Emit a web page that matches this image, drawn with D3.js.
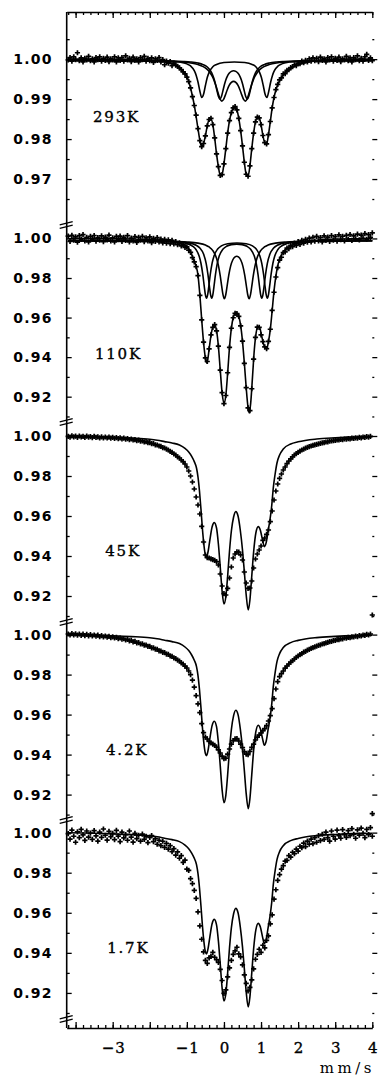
<!DOCTYPE html>
<html><head><meta charset="utf-8">
<script src="https://cdn.jsdelivr.net/npm/d3@7"></script>
<style>body{margin:0;background:#fff}svg{display:block}</style>
</head><body>
<svg id="chart" width="378" height="1076"></svg>
<script>
// ---------- DATA ----------
const velocityStart = -4.2;   // mm/s of first channel
const velocityStep = 0.05;    // mm/s per channel

const panelLabels = ["293K", "110K", "45K", "4.2K", "1.7K"];
const panelLabelAt = [[-3.53, 0.9856], [-3.48, 0.9416], [-3.2, 0.9425], [-3.18, 0.9425], [-3.15, 0.9425]];
const yDomains = [[0.9585, 1.0118], [0.9072, 1.0068], [0.907, 1.007], [0.9073, 1.0063], [0.9025, 1.0063]];
const yMajorTicks = [[1.00, 0.99, 0.98, 0.97], [1.00, 0.98, 0.96, 0.94, 0.92], [1.00, 0.98, 0.96, 0.94, 0.92], [1.00, 0.98, 0.96, 0.94, 0.92], [1.00, 0.98, 0.96, 0.94, 0.92]];
const yMinorTicks = [[1.005, 0.995, 0.985, 0.975, 0.965], [0.99, 0.97, 0.95, 0.93, 0.91], [0.99, 0.97, 0.95, 0.93, 0.91], [0.99, 0.97, 0.95, 0.93, 0.91], [0.99, 0.97, 0.95, 0.93, 0.91]];
const xMajorTicks = [-4, -3, -2, -1, 0, 1, 2, 3, 4];
const xTickLabels = [-3, -1, 0, 1, 2, 3, 4];
const xUnit = "mm/s";

const data293K = [
0.9998,1.0004,0.9995,1.0006,0.9999,1.0016,0.9996,1.0003,0.9993,1.0002,
0.9998,1.0007,0.9996,1.0001,0.9993,1.0004,0.9999,1.0006,0.9995,1.0002,
0.9997,1.0005,0.9994,1.0001,0.9998,1.0006,0.9993,1.0003,0.9997,1.0004,
0.9995,1.0008,0.9998,1.0002,0.9994,1.0005,0.9997,1.0001,0.9993,1.0004,
0.9999,1.0007,0.9995,1.0002,0.9996,1.0003,0.9992,1.0001,0.9997,1.0004,
0.9993,0.9999,0.9986,0.9995,0.9990,0.9994,0.9984,0.9990,0.9985,0.9982,
0.9978,0.9974,0.9968,0.9963,0.9955,0.9944,0.9928,0.9906,0.9884,0.9860,
0.9826,0.9796,0.9781,0.9789,0.9808,0.9833,0.9849,0.9852,0.9836,0.9803,
0.9763,0.9731,0.9709,0.9711,0.9738,0.9776,0.9815,0.9846,0.9866,0.9878,
0.9881,0.9873,0.9852,0.9821,0.9783,0.9742,0.9712,0.9707,0.9733,0.9776,
0.9815,0.9843,0.9855,0.9853,0.9836,0.9809,0.9791,0.9788,0.9811,0.9844,
0.9878,0.9904,0.9924,0.9937,0.9948,0.9953,0.9963,0.9964,0.9972,0.9974,
0.9979,0.9981,0.9986,0.9984,0.9990,0.9989,0.9995,0.9991,0.9997,0.9993,
1.0001,0.9995,1.0003,0.9996,1.0002,0.9994,1.0005,0.9997,1.0001,0.9993,
1.0004,0.9998,1.0006,0.9995,1.0002,0.9997,1.0005,0.9994,1.0001,0.9998,
1.0007,0.9996,1.0003,0.9993,1.0004,0.9999,1.0008,0.9996,1.0002,0.9995,
1.0006,1.0012,0.9997,1.0003,0.9996];

const data110K = [
1.0012,0.9985,1.0016,0.9992,1.0008,0.9981,1.0014,0.9995,1.0019,0.9988,
1.0006,0.9983,1.0011,0.9996,1.0015,0.9986,1.0004,0.9991,1.0013,0.9984,
1.0007,0.9993,1.0017,0.9987,1.0003,0.9982,1.0010,0.9994,1.0012,0.9985,
1.0005,0.9990,1.0014,0.9983,1.0002,0.9988,1.0009,0.9980,1.0006,0.9991,
1.0011,0.9984,1.0003,0.9987,1.0008,0.9979,1.0001,0.9985,1.0004,0.9982,
0.9997,0.9978,0.9996,0.9976,0.9993,0.9974,0.9990,0.9972,0.9984,0.9969,
0.9978,0.9962,0.9970,0.9955,0.9958,0.9941,0.9930,0.9903,0.9882,0.9858,
0.9812,0.9712,0.9588,0.9476,0.9396,0.9378,0.9442,0.9512,0.9550,0.9564,
0.9533,0.9456,0.9334,0.9221,0.9165,0.9206,0.9321,0.9449,0.9546,0.9599,
0.9621,0.9620,0.9606,0.9558,0.9481,0.9368,0.9246,0.9143,0.9130,0.9240,
0.9390,0.9500,0.9552,0.9550,0.9512,0.9478,0.9452,0.9443,0.9480,0.9541,
0.9636,0.9728,0.9805,0.9852,0.9890,0.9905,0.9928,0.9932,0.9951,0.9948,
0.9965,0.9958,0.9976,0.9965,0.9984,0.9970,0.9990,0.9976,0.9996,0.9981,
1.0002,0.9983,1.0006,0.9986,1.0010,0.9988,1.0004,0.9983,1.0013,0.9990,
1.0007,0.9985,1.0015,0.9992,1.0009,0.9986,1.0018,0.9994,1.0011,0.9987,
1.0016,0.9995,1.0020,0.9990,1.0013,0.9997,1.0022,0.9993,1.0017,1.0001,
1.0024,0.9996,1.0019,1.0005,1.0028];

const data45K = [
0.9998,0.9994,1.0001,0.9996,0.9999,0.9993,1.0000,0.9995,0.9998,0.9993,
0.9999,0.9994,0.9997,0.9992,0.9998,0.9993,0.9996,0.9991,0.9996,0.9990,
0.9995,0.9990,0.9994,0.9989,0.9993,0.9988,0.9992,0.9987,0.9991,0.9986,
0.9989,0.9984,0.9987,0.9982,0.9985,0.9980,0.9982,0.9977,0.9979,0.9974,
0.9976,0.9971,0.9972,0.9967,0.9967,0.9962,0.9962,0.9956,0.9955,0.9950,
0.9948,0.9942,0.9940,0.9934,0.9930,0.9923,0.9918,0.9910,0.9905,0.9896,
0.9890,0.9880,0.9872,0.9860,0.9845,0.9825,0.9800,0.9770,0.9735,0.9695,
0.9655,0.9610,0.9548,0.9470,0.9405,0.9392,0.9390,0.9386,0.9382,0.9378,
0.9372,0.9355,0.9310,0.9250,0.9212,0.9205,0.9238,0.9290,0.9345,0.9390,
0.9410,0.9421,0.9420,0.9406,0.9380,0.9320,0.9265,0.9238,0.9240,0.9275,
0.9340,0.9385,0.9410,0.9430,0.9450,0.9478,0.9490,0.9508,0.9530,0.9572,
0.9625,0.9680,0.9725,0.9760,0.9788,0.9810,0.9830,0.9845,0.9862,0.9875,
0.9886,0.9896,0.9905,0.9912,0.9918,0.9924,0.9930,0.9934,0.9939,0.9943,
0.9947,0.9950,0.9953,0.9956,0.9958,0.9961,0.9963,0.9966,0.9967,0.9970,
0.9971,0.9974,0.9975,0.9977,0.9978,0.9980,0.9980,0.9983,0.9982,0.9985,
0.9984,0.9987,0.9986,0.9989,0.9988,0.9991,0.9989,0.9993,0.9991,0.9995,
0.9993,0.9997,0.9994,0.9998,0.9105];

const data4K2 = [
1.0003,0.9998,1.0005,0.9999,1.0004,0.9997,1.0003,0.9996,1.0002,0.9995,
1.0001,0.9994,1.0000,0.9993,0.9998,0.9992,0.9997,0.9990,0.9995,0.9988,
0.9993,0.9987,0.9991,0.9985,0.9989,0.9983,0.9986,0.9980,0.9983,0.9977,
0.9980,0.9973,0.9976,0.9969,0.9971,0.9964,0.9966,0.9959,0.9960,0.9953,
0.9954,0.9947,0.9948,0.9941,0.9941,0.9934,0.9934,0.9927,0.9926,0.9919,
0.9918,0.9911,0.9910,0.9902,0.9901,0.9893,0.9891,0.9883,0.9880,0.9872,
0.9868,0.9859,0.9853,0.9842,0.9833,0.9818,0.9800,0.9772,0.9737,0.9695,
0.9654,0.9610,0.9555,0.9510,0.9487,0.9478,0.9466,0.9458,0.9452,0.9446,
0.9437,0.9424,0.9408,0.9392,0.9380,0.9382,0.9402,0.9428,0.9452,0.9470,
0.9479,0.9480,0.9468,0.9452,0.9435,0.9415,0.9402,0.9400,0.9416,0.9436,
0.9452,0.9473,0.9487,0.9497,0.9508,0.9520,0.9530,0.9545,0.9568,0.9595,
0.9630,0.9680,0.9728,0.9765,0.9790,0.9805,0.9818,0.9832,0.9843,0.9853,
0.9862,0.9870,0.9878,0.9886,0.9893,0.9900,0.9905,0.9912,0.9916,0.9922,
0.9926,0.9931,0.9935,0.9939,0.9942,0.9946,0.9949,0.9953,0.9955,0.9959,
0.9961,0.9965,0.9966,0.9970,0.9971,0.9975,0.9975,0.9979,0.9979,0.9983,
0.9982,0.9986,0.9985,0.9989,0.9988,0.9992,0.9990,0.9995,0.9993,0.9998,
0.9996,1.0001,0.9998,1.0003,0.9105];

const data1K7 = [
0.9995,0.9968,1.0012,0.9982,0.9952,1.0004,0.9975,1.0016,0.9989,0.9961,
1.0008,0.9978,0.9998,0.9966,1.0010,0.9984,0.9958,1.0002,0.9976,1.0018,
0.9987,0.9963,1.0006,0.9980,0.9996,0.9965,1.0011,0.9983,0.9955,1.0002,
0.9974,0.9990,0.9962,1.0008,0.9978,0.9953,0.9996,0.9970,0.9987,0.9958,
0.9993,0.9966,0.9982,0.9950,0.9976,0.9985,0.9955,0.9970,0.9942,0.9962,
0.9935,0.9957,0.9926,0.9946,0.9918,0.9935,0.9905,0.9920,0.9888,0.9904,
0.9872,0.9885,0.9852,0.9863,0.9818,0.9812,0.9770,0.9745,0.9712,0.9672,
0.9605,0.9535,0.9468,0.9405,0.9362,0.9348,0.9375,0.9382,0.9402,0.9378,
0.9366,0.9352,0.9318,0.9262,0.9198,0.9215,0.9280,0.9325,0.9362,0.9392,
0.9410,0.9428,0.9395,0.9380,0.9340,0.9290,0.9248,0.9210,0.9228,0.9265,
0.9320,0.9368,0.9392,0.9418,0.9402,0.9438,0.9425,0.9462,0.9485,0.9545,
0.9590,0.9668,0.9715,0.9762,0.9790,0.9818,0.9835,0.9858,0.9862,0.9885,
0.9878,0.9902,0.9895,0.9918,0.9908,0.9932,0.9925,0.9948,0.9930,0.9958,
0.9942,0.9968,0.9945,0.9975,0.9952,0.9985,0.9960,0.9992,0.9966,1.0002,
0.9975,0.9958,1.0008,0.9982,0.9968,1.0012,0.9985,0.9972,1.0015,0.9990,
0.9976,1.0010,0.9985,1.0020,0.9992,0.9972,1.0014,0.9988,1.0022,0.9996,
0.9975,1.0016,0.9990,1.0025,0.9982];

// fitted envelopes [velocity, transmission]
const fit293K = [[-4.2,1.0],[-2.0,0.9998],[-1.6,0.9993],[-1.3,0.9985],[-1.1,0.997],[-1.0,0.9957],[-0.9,0.9928],[-0.8,0.9885],[-0.7,0.9826],[-0.65,0.9797],[-0.6,0.9781],[-0.55,0.9789],[-0.5,0.9808],[-0.45,0.9833],[-0.4,0.9849],[-0.35,0.9851],[-0.3,0.9836],[-0.25,0.9803],[-0.2,0.9763],[-0.15,0.9731],[-0.1,0.9709],[-0.05,0.9712],[0,0.9738],[0.05,0.9776],[0.1,0.9815],[0.15,0.9846],[0.2,0.9866],[0.25,0.9878],[0.3,0.9881],[0.35,0.9873],[0.4,0.9852],[0.45,0.9821],[0.5,0.9783],[0.55,0.9742],[0.6,0.9712],[0.65,0.9707],[0.7,0.9733],[0.75,0.9776],[0.8,0.9815],[0.85,0.9843],[0.9,0.9855],[0.95,0.9853],[1.0,0.9836],[1.05,0.9809],[1.1,0.9791],[1.15,0.9788],[1.2,0.9811],[1.25,0.9844],[1.3,0.9878],[1.35,0.9904],[1.4,0.9923],[1.5,0.9946],[1.6,0.9961],[1.8,0.9977],[2.0,0.9986],[2.5,0.9996],[3.0,0.9999],[4.0,1.0]];
const sub293K_A = [[-4.2,0.9997],[-2.0,0.9996],[-1.5,0.9995],[-1.2,0.99927],[-1.0,0.99882],[-0.9,0.9983],[-0.8,0.99712],[-0.75,0.996],[-0.7,0.99428],[-0.65,0.99204],[-0.6,0.9904],[-0.55,0.9912],[-0.5,0.9934],[-0.45,0.9954],[-0.4,0.9967],[-0.3,0.9981],[-0.2,0.99868],[0.0,0.99916],[0.28,0.99929],[0.56,0.99916],[0.76,0.99868],[0.86,0.9981],[0.96,0.9967],[1.01,0.9954],[1.06,0.9934],[1.11,0.9912],[1.16,0.9904],[1.21,0.99204],[1.26,0.99428],[1.31,0.996],[1.36,0.99712],[1.46,0.9983],[1.56,0.99882],[1.76,0.99927],[2.06,0.9995],[2.56,0.9996],[4.0,0.9997]];
const sub293K_B = [[-4.2,0.99968],[-2.5,0.99964],[-1.8,0.99959],[-1.4,0.99953],[-1.1,0.99942],[-0.9,0.99929],[-0.7,0.99902],[-0.56,0.99863],[-0.48,0.99824],[-0.41,0.99767],[-0.36,0.99706],[-0.31,0.99616],[-0.27,0.99515],[-0.23,0.99381],[-0.19,0.99221],[-0.15,0.99073],[-0.11,0.99],[-0.07,0.99058],[-0.03,0.992],[0.01,0.99353],[0.05,0.99479],[0.09,0.9957],[0.14,0.99646],[0.2,0.99694],[0.26,0.9971],[0.32,0.99694],[0.38,0.99646],[0.43,0.9957],[0.47,0.99479],[0.51,0.99353],[0.55,0.992],[0.59,0.99058],[0.63,0.99],[0.67,0.99073],[0.71,0.99221],[0.75,0.99381],[0.79,0.99515],[0.83,0.99616],[0.88,0.99706],[0.93,0.99767],[1.0,0.99824],[1.08,0.99863],[1.22,0.99902],[1.42,0.99929],[1.62,0.99942],[1.92,0.99953],[2.32,0.99959],[3.02,0.99964],[4.0,0.99967]];
const sub293K_C = [[-4.2,0.99966],[-2.5,0.9996],[-1.8,0.99951],[-1.4,0.9994],[-1.1,0.99923],[-0.9,0.99903],[-0.7,0.99864],[-0.56,0.99813],[-0.46,0.99749],[-0.38,0.99668],[-0.31,0.9956],[-0.26,0.99451],[-0.21,0.99314],[-0.16,0.99157],[-0.11,0.99016],[-0.06,0.9895],[-0.01,0.98992],[0.04,0.99107],[0.09,0.99236],[0.14,0.99341],[0.2,0.99418],[0.26,0.99443],[0.32,0.99418],[0.38,0.99341],[0.43,0.99236],[0.48,0.99107],[0.53,0.98992],[0.58,0.9895],[0.63,0.99016],[0.68,0.99157],[0.73,0.99314],[0.78,0.99451],[0.83,0.9956],[0.9,0.99668],[0.98,0.99749],[1.08,0.99813],[1.22,0.99864],[1.42,0.99903],[1.62,0.99923],[1.92,0.9994],[2.32,0.99951],[3.02,0.9996],[4.0,0.99965]];

const fit110K = [[-4.2,1.0],[-3,0.9999],[-2.5,0.9997],[-2,0.9994],[-1.6,0.999],[-1.4,0.9985],[-1.2,0.9977],[-1.1,0.997],[-1,0.996],[-0.95,0.9948],[-0.9,0.9932],[-0.85,0.991],[-0.8,0.9885],[-0.75,0.986],[-0.7,0.9815],[-0.65,0.9715],[-0.6,0.959],[-0.55,0.9475],[-0.5,0.9395],[-0.47,0.9372],[-0.44,0.9385],[-0.4,0.944],[-0.35,0.951],[-0.3,0.9551],[-0.25,0.9562],[-0.2,0.9535],[-0.15,0.9455],[-0.1,0.9335],[-0.05,0.922],[0,0.9166],[0.05,0.9205],[0.1,0.932],[0.15,0.945],[0.2,0.9545],[0.25,0.96],[0.3,0.962],[0.35,0.9622],[0.4,0.9605],[0.45,0.956],[0.5,0.948],[0.55,0.937],[0.6,0.9245],[0.65,0.9145],[0.68,0.9118],[0.72,0.9165],[0.77,0.93],[0.82,0.944],[0.87,0.9525],[0.92,0.9554],[0.97,0.9545],[1.02,0.9505],[1.07,0.9465],[1.12,0.9446],[1.16,0.9448],[1.2,0.9478],[1.25,0.954],[1.3,0.9635],[1.35,0.9735],[1.4,0.981],[1.45,0.9862],[1.5,0.9895],[1.6,0.9932],[1.7,0.995],[1.8,0.9962],[2,0.9976],[2.5,0.9991],[3,0.9997],[4,1.0]];
const sub110K_A = [[-4.2,0.99886],[-3,0.9988],[-2,0.99868],[-1.5,0.99845],[-1.2,0.99806],[-1.0,0.9974],[-0.85,0.99617],[-0.75,0.9943],[-0.67,0.9911],[-0.62,0.98747],[-0.57,0.98167],[-0.53,0.9756],[-0.5,0.9715],[-0.47,0.96977],[-0.44,0.97147],[-0.41,0.9755],[-0.37,0.98164],[-0.32,0.98743],[-0.27,0.99104],[-0.17,0.99467],[-0.07,0.99622],[0.1,0.99731],[0.35,0.99768],[0.6,0.99731],[0.77,0.99622],[0.87,0.99467],[0.97,0.99104],[1.02,0.98743],[1.07,0.98164],[1.11,0.9755],[1.14,0.97147],[1.17,0.96977],[1.2,0.9715],[1.23,0.9756],[1.27,0.98167],[1.32,0.98747],[1.37,0.9911],[1.45,0.9943],[1.55,0.99617],[1.7,0.9974],[1.9,0.99806],[2.2,0.99845],[2.7,0.99868],[3.7,0.9988],[4.0,0.99882]];
const sub110K_B = [[-4.2,0.99885],[-3,0.99878],[-2,0.99871],[-1.5,0.99853],[-1.2,0.99827],[-1.0,0.9979],[-0.85,0.99732],[-0.75,0.99659],[-0.65,0.99519],[-0.55,0.99211],[-0.48,0.98742],[-0.43,0.98162],[-0.39,0.97553],[-0.36,0.97144],[-0.33,0.96973],[-0.3,0.97144],[-0.27,0.97553],[-0.23,0.98162],[-0.18,0.98742],[-0.13,0.99098],[-0.03,0.99452],[0.07,0.99604],[0.2,0.99687],[0.345,0.99712],[0.49,0.99687],[0.62,0.99604],[0.72,0.99452],[0.82,0.99098],[0.87,0.98742],[0.92,0.98162],[0.96,0.97553],[0.99,0.97144],[1.02,0.96973],[1.05,0.97144],[1.08,0.97553],[1.12,0.98162],[1.17,0.98742],[1.24,0.99211],[1.34,0.99519],[1.44,0.99659],[1.54,0.99732],[1.69,0.9979],[1.89,0.99827],[2.19,0.99853],[2.69,0.99871],[3.69,0.99878],[4.0,0.9988]];
const sub110K_C = [[-4.2,0.99885],[-3,0.99881],[-2,0.9987],[-1.5,0.99857],[-1.0,0.99822],[-0.7,0.99764],[-0.5,0.99668],[-0.4,0.99569],[-0.3,0.99387],[-0.2,0.98999],[-0.15,0.98642],[-0.1,0.98108],[-0.06,0.97572],[-0.03,0.97196],[0.01,0.9695],[0.05,0.97165],[0.09,0.97654],[0.13,0.98147],[0.18,0.98602],[0.24,0.98922],[0.3,0.99069],[0.345,0.99098],[0.39,0.99069],[0.45,0.98922],[0.51,0.98602],[0.56,0.98147],[0.6,0.97654],[0.64,0.97165],[0.68,0.9695],[0.72,0.97196],[0.75,0.97572],[0.79,0.98108],[0.84,0.98642],[0.89,0.98999],[0.99,0.99387],[1.09,0.99569],[1.19,0.99668],[1.39,0.99764],[1.69,0.99822],[2.19,0.99857],[2.69,0.9987],[3.69,0.99881],[4.0,0.99883]];

// simulated spectrum drawn over the low-temperature data
const fitLowT = [[-4.2,0.9999],[-3.5,0.9997],[-3,0.9994],[-2.5,0.999],[-2,0.9984],[-1.8,0.9979],[-1.6,0.9972],[-1.4,0.9965],[-1.2,0.9955],[-1.05,0.9938],[-0.95,0.992],[-0.87,0.9898],[-0.8,0.9872],[-0.74,0.984],[-0.7,0.9795],[-0.66,0.9725],[-0.62,0.9635],[-0.58,0.9535],[-0.54,0.9455],[-0.5,0.9405],[-0.47,0.9395],[-0.43,0.942],[-0.38,0.948],[-0.32,0.9545],[-0.26,0.9567],[-0.2,0.954],[-0.15,0.946],[-0.1,0.9345],[-0.05,0.9225],[0,0.916],[0.05,0.9195],[0.1,0.93],[0.15,0.9425],[0.2,0.9525],[0.26,0.9595],[0.32,0.9622],[0.38,0.96],[0.44,0.953],[0.5,0.943],[0.55,0.932],[0.6,0.9205],[0.655,0.913],[0.7,0.918],[0.75,0.93],[0.8,0.942],[0.86,0.9515],[0.925,0.9547],[0.98,0.953],[1.04,0.948],[1.09,0.9447],[1.14,0.9468],[1.19,0.9525],[1.24,0.958],[1.29,0.9655],[1.33,0.974],[1.38,0.981],[1.43,0.9865],[1.5,0.9905],[1.6,0.9935],[1.8,0.996],[2,0.9971],[2.5,0.9985],[3,0.9991],[3.5,0.9995],[4,0.9997]];

const panelData = [data293K, data110K, data45K, data4K2, data1K7];
const panelLines = [
  [fit293K, sub293K_A, sub293K_B, sub293K_C],
  [fit110K, sub110K_A, sub110K_B, sub110K_C],
  [fitLowT], [fitLowT], [fitLowT]
];

// ---------- LAYOUT ----------
const plotLeft = 66.7, plotRight = 372.3, plotTop = 12, plotBottom = 1028;
const panelEdges = [12, 225, 422, 622, 820, 1028];
const breakMarks = [225, 422, 622, 820, 1019];

const svg = d3.select("#chart");
svg.append("rect").attr("width", 378).attr("height", 1076).attr("fill", "#fff");

const x = d3.scaleLinear().domain([-4.24, 4.0]).range([plotLeft, plotRight]);
const xMinor = d3.range(-4.2, 4.001, 0.2).map(v => +v.toFixed(1));

const tickFont = "'DejaVu Sans', sans-serif";
const serifFont = "'DejaVu Serif', serif";

function styleAxis(g) {
  g.selectAll("line").attr("stroke", "#000").attr("stroke-width", 1.3);
  g.selectAll("path.domain").attr("stroke", "#000").attr("stroke-width", 1.6);
}

// top axis
svg.append("g").attr("transform", `translate(0,${plotTop})`)
  .call(d3.axisTop(x).tickValues(xMajorTicks).tickSizeInner(-6).tickSizeOuter(0).tickFormat(""))
  .call(styleAxis);
svg.append("g").attr("transform", `translate(0,${plotTop})`)
  .call(d3.axisTop(x).tickValues(xMinor).tickSizeInner(-3).tickSizeOuter(0).tickFormat(""))
  .call(g => g.select(".domain").remove()).call(styleAxis);

// bottom axis
const bottom = svg.append("g").attr("transform", `translate(0,${plotBottom})`)
  .call(d3.axisBottom(x).tickValues(xMajorTicks).tickSizeInner(-6).tickSizeOuter(0).tickPadding(14)
    .tickFormat(d => xTickLabels.includes(d) ? d3.format("d")(d) : ""))
  .call(styleAxis);
bottom.selectAll("text").attr("font-family", serifFont).attr("font-size", 15)
  .attr("fill", "#000").attr("letter-spacing", 1).attr("dx", 0.5)
  .attr("stroke", "#000").attr("stroke-width", 0.35);
svg.append("g").attr("transform", `translate(0,${plotBottom})`)
  .call(d3.axisBottom(x).tickValues(xMinor).tickSizeInner(-3).tickSizeOuter(0).tickFormat(""))
  .call(g => g.select(".domain").remove()).call(styleAxis);

svg.append("text").attr("x", 375).attr("y", 1073)
  .attr("text-anchor", "end").attr("font-family", serifFont).attr("font-size", 15)
  .attr("letter-spacing", 3.5).attr("fill", "#000").text(xUnit);

// left axis line
svg.append("line").attr("x1", plotLeft).attr("x2", plotLeft).attr("y1", plotTop).attr("y2", plotBottom)
  .attr("stroke", "#000").attr("stroke-width", 1.6);

const crossPath = "M-2.6,0H2.6M0,-2.6V2.6";
const lineGen = d3.line().curve(d3.curveMonotoneX);

panelData.forEach((vals, p) => {
  const y = d3.scaleLinear().domain(yDomains[p]).range([panelEdges[p + 1], panelEdges[p]]);
  const g = svg.append("g");

  // left ticks + labels
  const la = g.append("g").attr("transform", `translate(${plotLeft},0)`)
    .call(d3.axisLeft(y).tickValues(yMajorTicks[p]).tickSizeInner(-5).tickSizeOuter(0).tickPadding(14)
      .tickFormat(d3.format(".2f")))
    .call(a => a.select(".domain").remove()).call(styleAxis);
  la.selectAll("text").attr("font-family", tickFont).attr("font-size", 14)
    .attr("font-weight", "bold").attr("letter-spacing", 1.2).attr("fill", "#000");
  g.append("g").attr("transform", `translate(${plotLeft},0)`)
    .call(d3.axisLeft(y).tickValues(yMinorTicks[p]).tickSizeInner(-3).tickSizeOuter(0).tickFormat(""))
    .call(a => a.select(".domain").remove()).call(styleAxis);

  // right ticks
  g.append("g").attr("transform", `translate(${plotRight},0)`)
    .call(d3.axisRight(y).tickValues(yMajorTicks[p]).tickSizeInner(5).tickSizeOuter(0).tickFormat(""))
    .call(a => a.select(".domain").remove()).call(styleAxis);
  g.append("g").attr("transform", `translate(${plotRight},0)`)
    .call(d3.axisRight(y).tickValues(yMinorTicks[p]).tickSizeInner(2).tickSizeOuter(0).tickFormat(""))
    .call(a => a.select(".domain").remove()).call(styleAxis);

  // data points
  const pts = vals.map((t, i) => [velocityStart + i * velocityStep, t]);
  g.append("g").selectAll("path").data(pts).join("path")
    .attr("d", crossPath)
    .attr("transform", d => `translate(${x(d[0])},${y(d[1])})`)
    .attr("stroke", "#000").attr("stroke-width", 1.7).attr("fill", "none");

  // fitted lines
  panelLines[p].forEach(series => {
    g.append("path")
      .attr("d", lineGen(series.map(d => [x(d[0]), y(d[1])])))
      .attr("fill", "none").attr("stroke", "#000").attr("stroke-width", 1.6);
  });

  // panel label
  g.append("text").attr("x", x(panelLabelAt[p][0])).attr("y", y(panelLabelAt[p][1]))
    .attr("dy", "0.36em").attr("font-family", serifFont).attr("font-size", 15)
    .attr("stroke", "#000").attr("stroke-width", 0.35)
    .attr("letter-spacing", 1.8).attr("fill", "#000").text(panelLabels[p]);
});

// axis break marks
breakMarks.forEach(yb => {
  [-1.8, 1.8].forEach(off => {
    svg.append("line")
      .attr("x1", plotLeft - 7).attr("y1", yb + off + 1.6)
      .attr("x2", plotLeft + 6).attr("y2", yb + off - 1.6)
      .attr("stroke", "#000").attr("stroke-width", 1.3);
  });
});
</script>
</body></html>
